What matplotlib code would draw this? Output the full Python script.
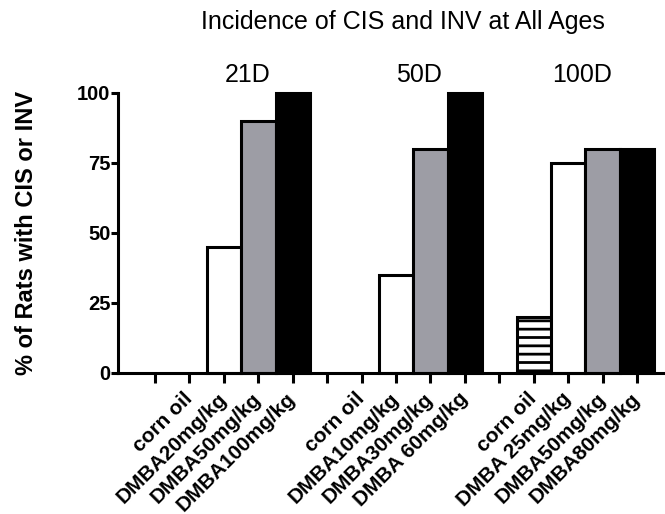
import numpy as np
import matplotlib
matplotlib.use("Agg")
import matplotlib.pyplot as plt

plt.rcParams["font.family"] = ["Liberation Sans", "DejaVu Sans"]
plt.rcParams["hatch.linewidth"] = 2.0

# data
groups = ["21D", "50D", "100D"]
dose_labels = [
    ["corn oil", "DMBA20mg/kg", "DMBA50mg/kg", "DMBA100mg/kg"],
    ["corn oil", "DMBA10mg/kg", "DMBA30mg/kg", "DMBA 60mg/kg"],
    ["corn oil", "DMBA 25mg/kg", "DMBA50mg/kg", "DMBA80mg/kg"],
]
incidence = [
    [0, 45, 90, 100],
    [0, 35, 80, 100],
    [20, 75, 80, 80],
]
yticks = [0, 25, 50, 75, 100]

# style per position inside a group (corn oil, low, mid, high dose)
fills = ["white", "white", "#9d9da5", "black"]
hatches = ["--", None, None, None]
group_label_x = [2.7, 7.67, 12.4]

fig = plt.figure(figsize=(6.65, 5.14), dpi=100)
ax = fig.add_axes([118 / 665, 141 / 514, 547 / 665, 280 / 514])

tick_pos, tick_lab = [], []
for g, name in enumerate(groups):
    start = 5 * g
    tick_pos.append(start)
    tick_lab.append("")
    for i, (lab, val) in enumerate(zip(dose_labels[g], incidence[g])):
        x = start + 1 + i
        tick_pos.append(x)
        tick_lab.append(lab)
        if val > 0:
            ax.bar(x, val, width=1.0, color=fills[i], edgecolor="black",
                   linewidth=2.2, hatch=hatches[i], clip_on=False, zorder=2)
    ax.text(group_label_x[g], 106.4, name, ha="center", va="center",
            fontsize=18, clip_on=False)

ax.set_xlim(-1.075, 14.81)
ax.set_ylim(0, 100)
ax.set_yticks(yticks)
ax.set_yticklabels([str(t) for t in yticks], fontsize=14.5, fontweight="bold")
ax.set_xticks(tick_pos)
ax.set_xticklabels(tick_lab, rotation=45, ha="right", va="center",
                   rotation_mode="anchor", fontsize=15, fontweight="bold")

for side in ["top", "right"]:
    ax.spines[side].set_visible(False)
for side in ["left", "bottom"]:
    ax.spines[side].set_linewidth(2.2)
    ax.spines[side].set_zorder(3)
ax.tick_params(axis="y", length=5, width=2.2, pad=0.5)
ax.tick_params(axis="x", length=7.5, width=2.2, pad=9)

ax.set_ylabel("% of Rats with CIS or INV", fontsize=17, fontweight="bold",
              va="center")
ax.yaxis.set_label_coords(-0.168, 0.5)

fig.text(403 / 665, 1 - 22 / 514, "Incidence of CIS and INV at All Ages",
         ha="center", va="center", fontsize=18)

fig.savefig("out.png", dpi=100)
